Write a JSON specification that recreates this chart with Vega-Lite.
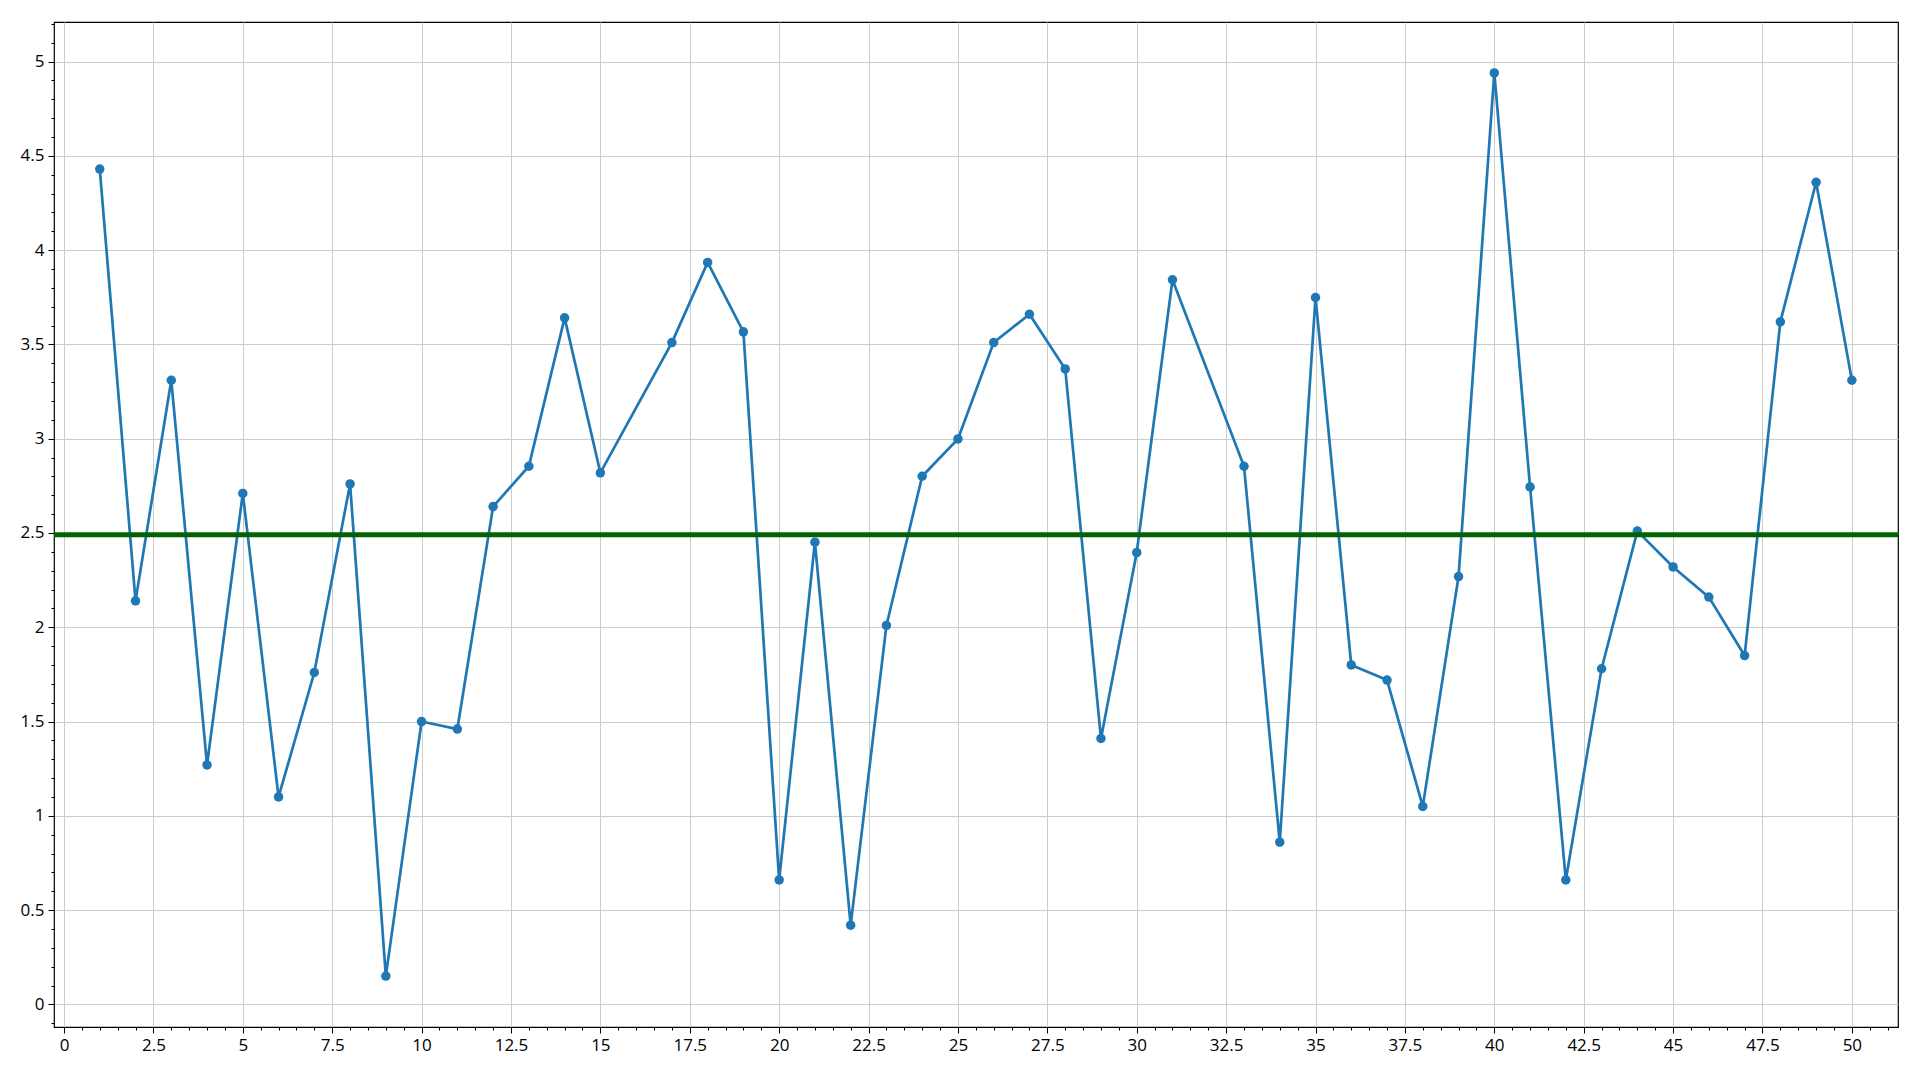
{
  "$schema": "https://vega.github.io/schema/vega-lite/v6.json",
  "width": 1844,
  "height": 1005,
  "autosize": "none",
  "padding": {"left": 54, "top": 22, "right": 22, "bottom": 53},
  "background": "white",
  "config": {
    "view": {"stroke": "black", "strokeWidth": 1.2},
    "axis": {
      "labelFont": "Open Sans",
      "labelFontSize": 17,
      "labelColor": "#000000",
      "tickColor": "#000000",
      "tickWidth": 1,
      "domain": false,
      "gridColor": "#cccccc",
      "gridWidth": 1,
      "title": null,
      "labelFlush": false,
      "labelOverlap": false,
      "labelPadding": 4
    }
  },
  "datasets": {
    "series": [
      {"x": 1, "y": 4.43}, {"x": 2, "y": 2.14}, {"x": 3, "y": 3.31}, {"x": 4, "y": 1.27}, {"x": 5, "y": 2.71},
      {"x": 6, "y": 1.10}, {"x": 7, "y": 1.76}, {"x": 8, "y": 2.76}, {"x": 9, "y": 0.15}, {"x": 10, "y": 1.50},
      {"x": 11, "y": 1.46}, {"x": 12, "y": 2.64}, {"x": 13, "y": 2.854}, {"x": 14, "y": 3.641}, {"x": 15, "y": 2.819},
      {"x": 17, "y": 3.51}, {"x": 18, "y": 3.935}, {"x": 19, "y": 3.567}, {"x": 20, "y": 0.66},
      {"x": 21, "y": 2.451}, {"x": 22, "y": 0.42}, {"x": 23, "y": 2.01}, {"x": 24, "y": 2.801}, {"x": 25, "y": 2.999},
      {"x": 26, "y": 3.51}, {"x": 27, "y": 3.66}, {"x": 28, "y": 3.37}, {"x": 29, "y": 1.41}, {"x": 30, "y": 2.396},
      {"x": 31, "y": 3.843}, {"x": 33, "y": 2.854}, {"x": 34, "y": 0.86}, {"x": 35, "y": 3.749},
      {"x": 36, "y": 1.80}, {"x": 37, "y": 1.72}, {"x": 38, "y": 1.05}, {"x": 39, "y": 2.269}, {"x": 40, "y": 4.94},
      {"x": 41, "y": 2.744}, {"x": 42, "y": 0.66}, {"x": 43, "y": 1.78}, {"x": 44, "y": 2.51}, {"x": 45, "y": 2.32},
      {"x": 46, "y": 2.16}, {"x": 47, "y": 1.85}, {"x": 48, "y": 3.62}, {"x": 49, "y": 4.36}, {"x": 50, "y": 3.31}
    ],
    "mean": [{"value": 2.49}]
  },
  "layer": [
    {
      "data": {"name": "series"},
      "mark": {"type": "line", "color": "#1f77b4", "strokeWidth": 2.7},
      "encoding": {
        "x": {
          "field": "x", "type": "quantitative",
          "scale": {"domain": [-0.28, 51.29], "nice": false, "zero": false},
          "axis": {"orient": "bottom", "grid": true, "tickSize": 6, "format": ".1~f",
                   "values": [0, 2.5, 5, 7.5, 10, 12.5, 15, 17.5, 20, 22.5, 25, 27.5, 30, 32.5, 35, 37.5, 40, 42.5, 45, 47.5, 50]}
        },
        "y": {
          "field": "y", "type": "quantitative",
          "scale": {"domain": [-0.12, 5.21], "nice": false, "zero": false},
          "axis": {"orient": "left", "grid": true, "tickSize": 6, "format": ".1~f",
                   "values": [0, 0.5, 1, 1.5, 2, 2.5, 3, 3.5, 4, 4.5, 5]}
        }
      }
    },
    {
      "data": {"name": "series"},
      "mark": {"type": "point", "filled": true, "size": 90, "color": "#1f77b4", "opacity": 1},
      "encoding": {
        "x": {
          "field": "x", "type": "quantitative",
          "axis": {"orient": "bottom", "grid": false, "labels": false, "tickSize": 3,
                   "values": [0,0.5,1,1.5,2,2.5,3,3.5,4,4.5,5,5.5,6,6.5,7,7.5,8,8.5,9,9.5,10,10.5,11,11.5,12,12.5,13,13.5,14,14.5,15,15.5,16,16.5,17,17.5,18,18.5,19,19.5,20,20.5,21,21.5,22,22.5,23,23.5,24,24.5,25,25.5,26,26.5,27,27.5,28,28.5,29,29.5,30,30.5,31,31.5,32,32.5,33,33.5,34,34.5,35,35.5,36,36.5,37,37.5,38,38.5,39,39.5,40,40.5,41,41.5,42,42.5,43,43.5,44,44.5,45,45.5,46,46.5,47,47.5,48,48.5,49,49.5,50,50.5,51]}
        },
        "y": {
          "field": "y", "type": "quantitative",
          "axis": {"orient": "left", "grid": false, "labels": false, "tickSize": 3,
                   "values": [-0.1,0,0.1,0.2,0.3,0.4,0.5,0.6,0.7,0.8,0.9,1,1.1,1.2,1.3,1.4,1.5,1.6,1.7,1.8,1.9,2,2.1,2.2,2.3,2.4,2.5,2.6,2.7,2.8,2.9,3,3.1,3.2,3.3,3.4,3.5,3.6,3.7,3.8,3.9,4,4.1,4.2,4.3,4.4,4.5,4.6,4.7,4.8,4.9,5,5.1,5.2]}
        }
      }
    },
    {
      "data": {"name": "mean"},
      "mark": {"type": "rule", "color": "#006400", "strokeWidth": 5},
      "encoding": {
        "y": {"field": "value", "type": "quantitative", "axis": null}
      }
    }
  ],
  "resolve": {"axis": {"x": "independent", "y": "independent"}}
}
